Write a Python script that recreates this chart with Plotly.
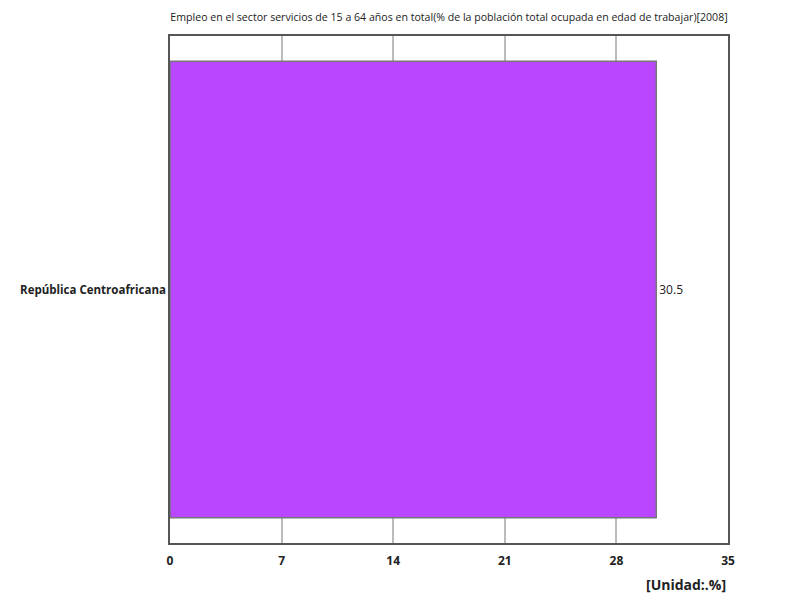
import plotly.graph_objects as go

# chart data
countries = ["República Centroafricana"]
values = [30.5]
ticks = [0, 7, 14, 21, 28, 35]

fig = go.Figure(go.Bar(
    x=values, y=countries, orientation="h",
    marker=dict(color="#b847ff", line=dict(color="#777777", width=1.5)),
    width=0.9,
    text=[str(v) for v in values], textposition="outside",
    textfont=dict(size=12, color="#222222"),
    cliponaxis=False,
))

# the page puts the plot ~8px in from the top-left, so margins are shifted
fig.update_layout(
    width=800, height=600,
    margin=dict(l=162, r=80, t=28, b=65, autoexpand=False),
    plot_bgcolor="white", paper_bgcolor="white",
    font=dict(family="Open Sans", size=12, color="#222222"),
    title=dict(
        text="Empleo en el sector servicios de 15 a 64 años en total(% de la población total ocupada en edad de trabajar)[2008]",
        x=0.5, xref="paper", xanchor="center", y=0.99, yanchor="top",
        font=dict(size=10.6, color="#222222"),
    ),
    showlegend=False,
)

fig.update_xaxes(
    range=[0, 35], tickvals=ticks, ticktext=["<b>%d</b>" % t for t in ticks],
    showgrid=True, gridcolor="#bbbbbb", gridwidth=1.5,
    showline=True, linecolor="#555555", linewidth=1.5, mirror=True,
    zeroline=False, ticks="outside", ticklen=6, tickcolor="white",
    tickfont=dict(size=12, color="#222222"), automargin=False,
)
fig.update_yaxes(
    tickvals=countries, ticktext=["<b>%s</b>" % c for c in countries],
    showline=True, linecolor="#555555", linewidth=1.5, mirror=True,
    ticks="", tickfont=dict(size=11.5, color="#222222"), automargin=False,
)

fig.add_annotation(
    text="<b>[Unidad:.%]</b>", xref="paper", yref="paper",
    x=1.0, y=-0.06, xanchor="right", yanchor="top",
    showarrow=False, font=dict(size=14, color="#222222"),
)

fig.write_html("out.html")
